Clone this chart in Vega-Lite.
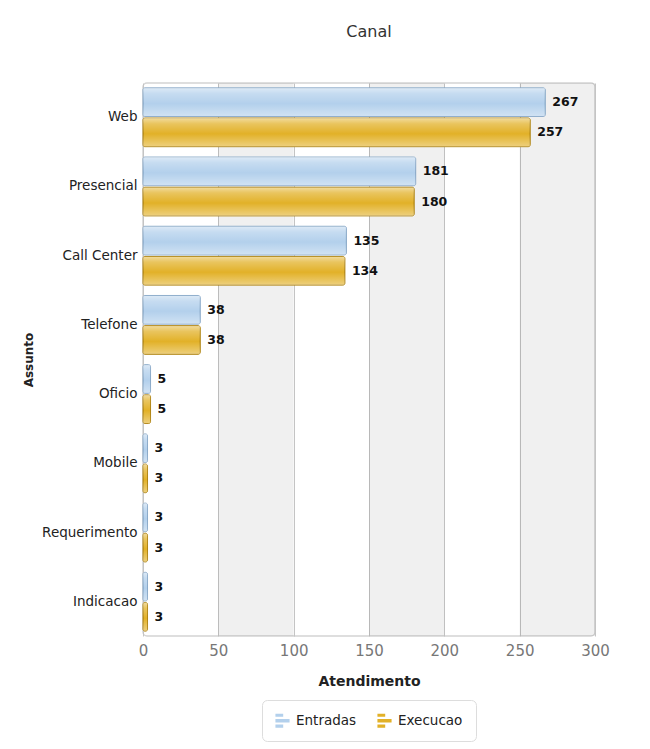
{
  "$schema": "https://vega.github.io/schema/vega-lite/v6.json",
  "width": 452,
  "height": 553,
  "padding": {"left": 22, "top": 24, "right": 40, "bottom": 2},
  "background": "white",
  "title": {"text": "Canal", "fontSize": 16, "font": "DejaVu Sans", "fontWeight": "normal", "color": "#333333", "offset": 43, "anchor": "middle"},
  "datasets": {
    "main": [
      {"assunto": "Web", "serie": "Entradas", "valor": 267},
      {"assunto": "Web", "serie": "Execucao", "valor": 257},
      {"assunto": "Presencial", "serie": "Entradas", "valor": 181},
      {"assunto": "Presencial", "serie": "Execucao", "valor": 180},
      {"assunto": "Call Center", "serie": "Entradas", "valor": 135},
      {"assunto": "Call Center", "serie": "Execucao", "valor": 134},
      {"assunto": "Telefone", "serie": "Entradas", "valor": 38},
      {"assunto": "Telefone", "serie": "Execucao", "valor": 38},
      {"assunto": "Oficio", "serie": "Entradas", "valor": 5},
      {"assunto": "Oficio", "serie": "Execucao", "valor": 5},
      {"assunto": "Mobile", "serie": "Entradas", "valor": 3},
      {"assunto": "Mobile", "serie": "Execucao", "valor": 3},
      {"assunto": "Requerimento", "serie": "Entradas", "valor": 3},
      {"assunto": "Requerimento", "serie": "Execucao", "valor": 3},
      {"assunto": "Indicacao", "serie": "Entradas", "valor": 3},
      {"assunto": "Indicacao", "serie": "Execucao", "valor": 3}
    ],
    "stripes": [
      {"start": 50, "end": 100},
      {"start": 150, "end": 200},
      {"start": 250, "end": 300}
    ]
  },
  "config": {
    "view": {"stroke": "#d4d4d4", "strokeWidth": 1.5, "cornerRadius": 4},
    "font": "DejaVu Sans",
    "legend": {"layout": {"bottom": {"anchor": "middle"}}}
  },
  "layer": [
    {
      "data": {"name": "stripes"},
      "mark": {"type": "rect", "fill": "#000000", "fillOpacity": 0.06},
      "encoding": {
        "x": {"field": "start", "type": "quantitative", "scale": {"domain": [0, 300], "nice": false},
          "axis": {"values": [0, 50, 100, 150, 200, 250, 300], "grid": true, "gridColor": "#c4c4c4", "domain": false, "ticks": false,
            "labelFlush": false, "labelFontSize": 15, "labelColor": "#777777", "labelFont": "DejaVu Sans", "labelPadding": 7,
            "title": "Atendimento", "titleFontSize": 14, "titleFontWeight": "bold", "titleColor": "#222222", "titlePadding": 16}},
        "x2": {"field": "end"}
      }
    },
    {
      "data": {"name": "main"},
      "mark": {"type": "bar", "strokeWidth": 1, "cornerRadius": 2},
      "encoding": {
        "y": {"field": "assunto", "type": "nominal", "sort": null,
          "scale": {"paddingInner": 0.15, "paddingOuter": 0.07},
          "axis": {"domain": false, "ticks": false, "labelFontSize": 13.5, "labelColor": "#222222", "labelPadding": 6,
            "title": "Assunto", "titleFontSize": 12, "titleFontWeight": "bold", "titleColor": "#222222", "titlePadding": 6}},
        "yOffset": {"field": "serie", "type": "nominal", "sort": ["Entradas", "Execucao"], "scale": {"paddingInner": 0.05}},
        "x": {"field": "valor", "type": "quantitative"},
        "color": {"field": "serie", "type": "nominal", "sort": ["Entradas", "Execucao"],
          "scale": {"domain": ["Entradas", "Execucao"], "range": ["#b3d0ec", "#e2b128"]},
          "legend": {"title": null, "orient": "bottom", "direction": "horizontal", "labelFontSize": 13.5, "labelColor": "#222222",
            "symbolType": "M-1,-1H0.1V-0.55H-1Z M-1,-0.25H1V0.25H-1Z M-1,0.55H0.1V1H-1Z", "symbolSize": 200, "symbolStrokeWidth": 0,
            "strokeColor": "#dddddd", "padding": 13, "cornerRadius": 5, "columnPadding": 20, "offset": 12, "labelOffset": 6}},
        "stroke": {"field": "serie", "type": "nominal",
          "scale": {"domain": ["Entradas", "Execucao"], "range": ["#88a8c8", "#b08410"]}, "legend": null}
      }
    },
    {
      "data": {"name": "main"},
      "mark": {"type": "bar", "cornerRadius": 2,
        "fill": {"gradient": "linear", "x1": 0, "y1": 0, "x2": 0, "y2": 1,
          "stops": [
            {"offset": 0, "color": "rgba(255,255,255,0.55)"},
            {"offset": 0.2, "color": "rgba(255,255,255,0.25)"},
            {"offset": 0.55, "color": "rgba(255,255,255,0.0)"},
            {"offset": 1, "color": "rgba(255,255,255,0.4)"}
          ]}},
      "encoding": {
        "y": {"field": "assunto", "type": "nominal", "sort": null},
        "yOffset": {"field": "serie", "type": "nominal", "sort": ["Entradas", "Execucao"]},
        "x": {"field": "valor", "type": "quantitative"}
      }
    },
    {
      "data": {"name": "main"},
      "mark": {"type": "text", "align": "left", "baseline": "middle", "dx": 7, "fontSize": 12.5, "fontWeight": "bold", "color": "#111111", "font": "DejaVu Sans"},
      "encoding": {
        "y": {"field": "assunto", "type": "nominal", "sort": null},
        "yOffset": {"field": "serie", "type": "nominal", "sort": ["Entradas", "Execucao"]},
        "x": {"field": "valor", "type": "quantitative"},
        "text": {"field": "valor", "type": "quantitative"}
      }
    }
  ]
}
